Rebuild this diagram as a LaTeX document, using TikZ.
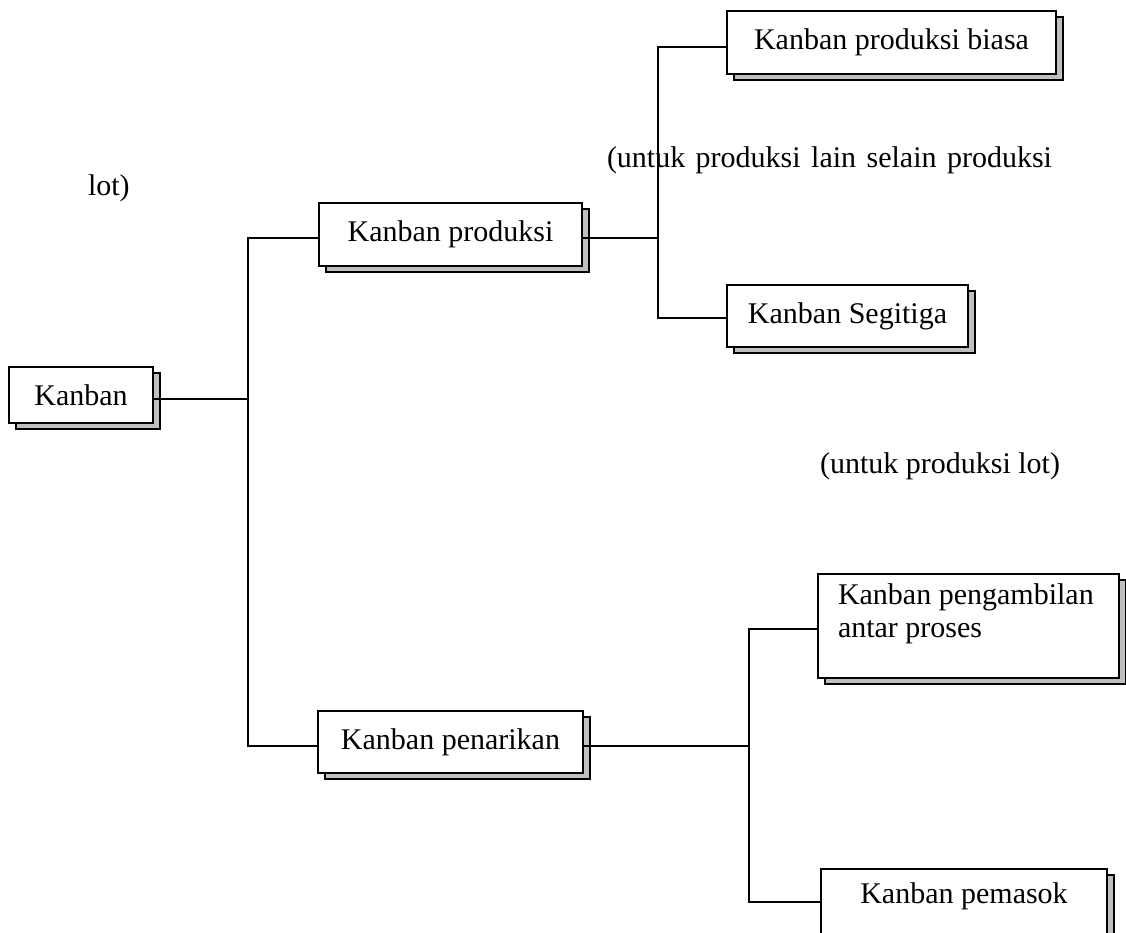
\documentclass[tikz,border=0pt]{standalone}
\usepackage{fontspec}
\setmainfont{Liberation Serif}
\usetikzlibrary{shadows}
\begin{document}
\begin{tikzpicture}[x=1pt,y=-1pt,
  txt/.style={font=\fontsize{30}{33}\selectfont, inner sep=0pt, outer sep=0pt},
  kbox/.style={txt, draw=black, line width=1.6pt, fill=white, anchor=north west,
    drop shadow={shadow xshift=7pt, shadow yshift=-6pt, opacity=1,
      fill=black!25, draw=black, line width=1.6pt}},
  link/.style={draw=black, line width=1.3pt}]
\useasboundingbox (0,0) rectangle (1126,932);

% boxes
\node[kbox, minimum width=144pt, minimum height=56pt] (k) at (9,367) {Kanban};
\node[kbox, minimum width=263pt, minimum height=63pt] (kp) at (319,203) {Kanban produksi};
\node[kbox, minimum width=329pt, minimum height=63pt] (kpb) at (727,11) {Kanban produksi biasa};
\node[kbox, minimum width=241pt, minimum height=62pt] (ks) at (727,285) {Kanban Segitiga};
\node[kbox, minimum width=265pt, minimum height=62pt] (kn) at (318,711) {Kanban penarikan};
\node[kbox, minimum width=301pt, minimum height=104pt] (ka) at (818,574)
  {\parbox[c][104pt][t]{261pt}{\raggedright\vspace{10pt}Kanban pengambilan\\antar proses}};
\node[kbox, minimum width=286pt, minimum height=66pt, text height=10pt, text depth=8pt] (km) at (821,869) {Kanban pemasok};

% free texts
\node[txt, anchor=base west] (t1) at (607,167) {\makebox[445pt][s]{(untuk produksi lain selain produksi}};
\node[txt, anchor=base west] (t2) at (88,195) {lot)};
\node[txt, anchor=base west] (t3) at (820,473) {(untuk produksi lot)};

% branch points
\coordinate (j0) at (248,399);
\coordinate (a1) at (248,238);
\coordinate (a2) at (248,746);
\coordinate (b0) at (658,238);
\coordinate (b1) at (658,47);
\coordinate (b2) at (658,318);
\coordinate (c0) at (749,746);
\coordinate (c1) at (749,629);
\coordinate (c2) at (749,902);

% connectors
\draw[link] (k.east |- j0) -- (j0);
\draw[link] (kp.west |- a1) -- (a1) -- (a2) -- (kn.west |- a2);
\draw[link] (kp.east |- b0) -- (b0);
\draw[link] (kpb.west |- b1) -- (b1) -- (b2) -- (ks.west |- b2);
\draw[link] (kn.east |- c0) -- (c0);
\draw[link] (ka.west |- c1) -- (c1) -- (c2) -- (km.west |- c2);
\end{tikzpicture}
\end{document}
